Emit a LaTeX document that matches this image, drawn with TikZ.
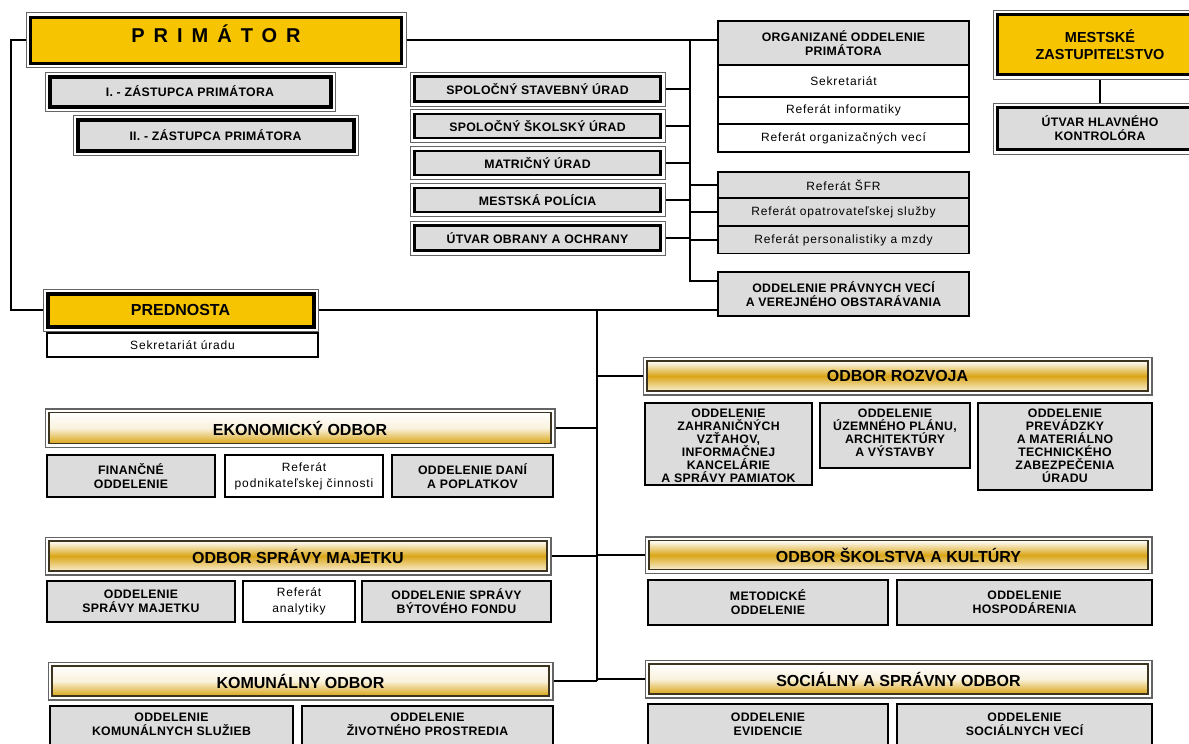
\documentclass[tikz,border=0pt]{standalone}
\usepackage{fontspec}
\setmainfont{Liberation Sans}
\newfontfamily\lspfam[LetterSpace=2.5]{Liberation Sans}
\newfontfamily\rspfam[LetterSpace=7]{Liberation Sans}
\newfontfamily\widefam[LetterSpace=45]{Liberation Sans}
\newcommand\boxbf{\lspfam\bfseries\fontsize{12.3}{14}\selectfont}
\newcommand\tightbf{\lspfam\bfseries\fontsize{12.3}{13}\selectfont}
\newcommand\boxrm{\rspfam\fontsize{12}{16}\selectfont}
\newcommand\hdfont{\bfseries\fontsize{16}{18}\selectfont}
\definecolor{boxgray}{RGB}{220,220,220}
\definecolor{gold}{RGB}{218,166,24}
\definecolor{yel}{RGB}{246,196,0}
\definecolor{framec}{RGB}{100,100,100}
\definecolor{hdrline}{RGB}{60,52,30}
\tikzset{
 ln/.style={draw=black, line width=2pt},
 frame/.style={preaction={draw=framec, line width=10pt}, preaction={draw=white, line width=8pt}, outer sep=5pt},
 dbl/.style={frame, draw=black, line width=2.2pt, fill=boxgray, inner sep=0pt, align=center, font=\boxbf},
 ybox/.style={frame, draw=black, line width=3pt, fill=yel, inner sep=0pt, align=center},
 hdr/.style={preaction={draw=framec, line width=9pt}, preaction={draw=white, line width=6pt}, outer sep=4.5pt, draw=hdrline, line width=1.8pt, inner sep=0pt, font=\hdfont},
 hdrA/.style={hdr, top color=white, bottom color=gold!20, middle color=gold},
 hdrB/.style={hdr, top color=white, bottom color=gold, middle color=gold!15},
 gbox/.style={draw=black, line width=2.2pt, fill=boxgray, inner sep=0pt, align=center, font=\boxbf},
 rbox/.style={draw=black, line width=1.3pt, fill=boxgray, inner sep=0pt, font=\boxrm},
 wbox/.style={draw=black, line width=1.3pt, fill=white, inner sep=0pt, align=center, font=\boxrm},
 lbl/.style={inner sep=0pt, align=center, font=\boxbf},
}
\begin{document}
\begin{tikzpicture}[x=1pt,y=-1pt]
\useasboundingbox (0,0) rectangle (1189,744);
\clip (0,0) rectangle (1189,744);
\fill[white] (0,0) rectangle (1189,744);

% top left
\node[ybox, minimum width=371pt, minimum height=46pt, font=\widefam\bfseries\fontsize{20}{22}\selectfont] (prim) at (216,40) {\raisebox{6pt}[\height][\depth]{PRIMÁTOR}};
\node[dbl, line width=4pt, minimum width=281pt, minimum height=30pt] (z1) at (190,91.5) {I. - ZÁSTUPCA PRIMÁTORA};
\node[dbl, line width=4pt, minimum width=276pt, minimum height=31pt] (z2) at (215.5,135) {II. - ZÁSTUPCA PRIMÁTORA};

% left column of offices
\node[dbl, minimum width=246pt, minimum height=25pt] (ssu) at (537.5,89) {SPOLOČNÝ STAVEBNÝ ÚRAD};
\node[dbl, minimum width=246pt, minimum height=24pt] (sku) at (537.5,126) {SPOLOČNÝ ŠKOLSKÝ ÚRAD};
\node[dbl, minimum width=246pt, minimum height=24pt] (mu) at (537.5,163) {MATRIČNÝ ÚRAD};
\node[dbl, minimum width=246pt, minimum height=24pt] (mp) at (537.5,200) {MESTSKÁ POLÍCIA};
\node[dbl, minimum width=246pt, minimum height=25pt] (uoo) at (537.5,238) {ÚTVAR OBRANY A OCHRANY};

% right column of offices
\node[gbox, minimum width=251pt, minimum height=44pt] (org) at (843.5,43) {ORGANIZANÉ ODDELENIE\\PRIMÁTORA};
\node[wbox, minimum width=251pt, minimum height=32pt] (sekr) at (843.5,81) {Sekretariát};
\node[wbox, minimum width=251pt, minimum height=27pt] (rinf) at (843.5,110.5) {Referát informatiky};
\node[wbox, minimum width=251pt, minimum height=28pt] (rorg) at (843.5,138) {Referát organizačných vecí};
\node[rbox, minimum width=251pt, minimum height=26pt] (rsfr) at (843.5,185) {Referát ŠFR};
\node[rbox, minimum width=251pt, minimum height=28pt] (ropa) at (843.5,212) {Referát opatrovateľskej služby};
\node[rbox, minimum width=251pt, minimum height=27pt] (rper) at (843.5,240) {Referát personalistiky a mzdy};
\node[gbox, minimum width=251pt, minimum height=44pt] (prav) at (843.5,294) {ODDELENIE PRÁVNYCH VECÍ\\A VEREJNÉHO OBSTARÁVANIA};

% top right
\node[ybox, minimum width=205pt, minimum height=60pt, font=\bfseries\fontsize{14.5}{17}\selectfont] (mest) at (1100,44.5) {MESTSKÉ\\ZASTUPITEĽSTVO};
\node[dbl, minimum width=205pt, minimum height=42pt] (utv) at (1100,128.5) {ÚTVAR HLAVNÉHO\\KONTROLÓRA};

% prednosta
\node[ybox, line width=4pt, minimum width=266pt, minimum height=33pt, font=\bfseries\fontsize{16}{18}\selectfont] (pred) at (180.5,310) {PREDNOSTA};
\node[wbox, minimum width=271pt, minimum height=24pt] (sekru) at (182.5,345) {Sekretariát úradu};

% departments
\node[hdrA, minimum width=501pt, minimum height=30pt] (roz) at (897.5,376) {ODBOR ROZVOJA};
\node[hdrB, minimum width=502pt, minimum height=31pt] (eko) at (300,428) {EKONOMICKÝ ODBOR};
\node[hdrA, minimum width=498pt, minimum height=30pt] (maj) at (298,556) {ODBOR SPRÁVY MAJETKU};
\node[hdrA, minimum width=499pt, minimum height=29pt] (sko) at (898.5,555) {ODBOR ŠKOLSTVA A KULTÚRY};
\node[hdrB, minimum width=497pt, minimum height=30pt] (kom) at (300.5,681) {KOMUNÁLNY ODBOR};
\node[hdrB, minimum width=499pt, minimum height=30pt] (soc) at (898.5,679) {SOCIÁLNY A SPRÁVNY ODBOR};

% sub boxes
\node[gbox, minimum width=168pt, minimum height=42pt] (fin) at (131,476) {FINANČNÉ\\ODDELENIE};
\node[wbox, minimum width=158pt, minimum height=42pt] (refp) at (304,476) {Referát\\podnikateľskej činnosti};
\node[gbox, minimum width=161pt, minimum height=42pt] (dan) at (472.5,476) {ODDELENIE DANÍ\\A POPLATKOV};
\node[gbox, minimum width=188pt, minimum height=41pt] (osm) at (141,601.5) {ODDELENIE\\SPRÁVY MAJETKU};
\node[wbox, minimum width=112pt, minimum height=41pt] (rana) at (299,601.5) {Referát\\analytiky};
\node[gbox, minimum width=189pt, minimum height=41pt] (obf) at (456.5,601.5) {ODDELENIE SPRÁVY\\BÝTOVÉHO FONDU};
\node[gbox, minimum width=243pt, minimum height=54pt] (oks) at (171.5,733) {};
\node[lbl] (okst) at (171.5,724) {ODDELENIE\\KOMUNÁLNYCH SLUŽIEB};
\node[gbox, minimum width=251pt, minimum height=54pt] (ozp) at (427.5,733) {};
\node[lbl] (ozpt) at (427.5,724) {ODDELENIE\\ŽIVOTNÉHO PROSTREDIA};

\node[gbox, minimum width=167pt, minimum height=82pt] (zahr) at (728.5,444) {};
\node[lbl, font=\tightbf, anchor=north] (zahrt) at ([yshift=-7pt]zahr.north) {ODDELENIE\\ZAHRANIČNÝCH\\VZŤAHOV,\\INFORMAČNEJ\\KANCELÁRIE\\A SPRÁVY PAMIATOK};
\node[gbox, minimum width=150pt, minimum height=65pt] (uzem) at (895,435.5) {};
\node[lbl, font=\tightbf, anchor=north] (uzemt) at ([yshift=-7pt]uzem.north) {ODDELENIE\\ÚZEMNÉHO PLÁNU,\\ARCHITEKTÚRY\\A VÝSTAVBY};
\node[gbox, minimum width=174pt, minimum height=87pt] (prev) at (1065,446.5) {};
\node[lbl, font=\tightbf, anchor=north] (prevt) at ([yshift=-7pt]prev.north) {ODDELENIE\\PREVÁDZKY\\A MATERIÁLNO\\TECHNICKÉHO\\ZABEZPEČENIA\\ÚRADU};
\node[gbox, minimum width=240pt, minimum height=45pt] (met) at (768,602.5) {METODICKÉ\\ODDELENIE};
\node[gbox, minimum width=255pt, minimum height=45pt] (hosp) at (1024.5,602.5) {ODDELENIE\\HOSPODÁRENIA};
\node[gbox, minimum width=240pt, minimum height=56pt] (evid) at (768,732) {};
\node[lbl] (evidt) at (768,724) {ODDELENIE\\EVIDENCIE};
\node[gbox, minimum width=255pt, minimum height=56pt] (socv) at (1024.5,732) {};
\node[lbl] (socvt) at (1024.5,724) {ODDELENIE\\SOCIÁLNYCH VECÍ};

% connectors
\coordinate (lb) at (11,40);
\coordinate (bus) at (690,40);
\coordinate (busend) at (690,281);
\coordinate (tr) at (597,310);
\coordinate (trend) at (597,681);

\draw[ln] (prim.west) -- (lb) |- (pred.west);
\draw[ln] (prim.east) -- (prim.east -| org.west);
\draw[ln] (bus) -- (busend) -- (busend -| prav.west);
\foreach \n in {ssu,sku,mu,mp,uoo} \draw[ln] (\n.east) -- (\n.east -| bus);
\foreach \n in {rsfr,ropa,rper} \draw[ln] (\n.west -| bus) -- (\n.west);
\draw[ln] (mest.south) -- (mest.south |- utv.north);
\draw[ln] (pred.east) -- (pred.east -| prav.west);
\draw[ln] (tr) -- (trend);
\foreach \n in {roz,sko,soc} \draw[ln] (\n.west -| tr) -- (\n.west);
\foreach \n in {eko,maj,kom} \draw[ln] (\n.east) -- (\n.east -| tr);
\end{tikzpicture}
\end{document}
